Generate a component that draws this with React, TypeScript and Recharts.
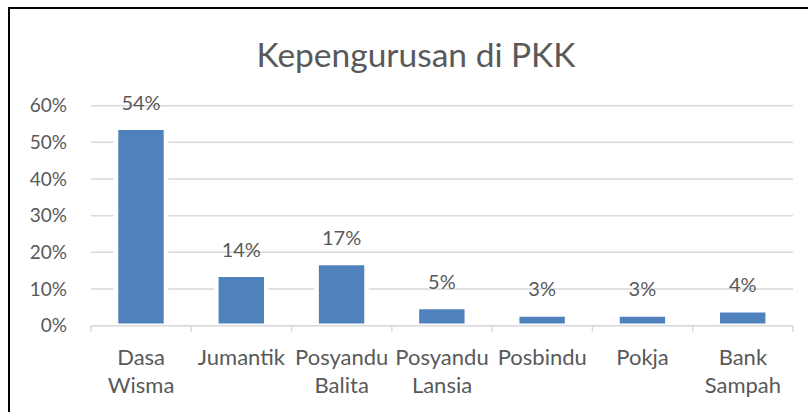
import { BarChart, Bar, XAxis, YAxis, CartesianGrid, LabelList } from "recharts";

// Kepengurusan di PKK — share of members per unit (%)
const categories = [
  "Dasa Wisma",
  "Jumantik",
  "Posyandu Balita",
  "Posyandu Lansia",
  "Posbindu",
  "Pokja",
  "Bank Sampah",
];
const shares = [54.0, 13.9, 17.1, 5.1, 3.1, 3.1, 4.2];
const yTicks = [0, 10, 20, 30, 40, 50, 60];

const data = categories.map((name, i) => ({ name, value: shares[i] }));

const TEXT = "#595959";
const GRID = "#d9d9d9";
const BAR = "#4f81bd";
const FONT = "Lato, 'Noto Sans', sans-serif";

function CategoryTick(props: any) {
  const { x, y, payload, index, visibleTicksCount } = props;
  const half = payload.offset || 0;
  const lines = String(payload.value).split(" ");
  const last = index === visibleTicksCount - 1;
  return (
    <g>
      <line x1={x - half} x2={x - half} y1={y} y2={y + 6} stroke={GRID} strokeWidth={1.5} />
      {last && <line x1={x + half} x2={x + half} y1={y} y2={y + 6} stroke={GRID} strokeWidth={1.5} />}
      <text x={x} y={y + 39} textAnchor="middle" fill={TEXT} fontSize={22} fontFamily={FONT}>
        {lines.map((l, i) => (
          <tspan key={i} x={x} dy={i === 0 ? 0 : 28.5}>
            {l}
          </tspan>
        ))}
      </text>
    </g>
  );
}

function ValueLabel(props: any) {
  const { x, y, width, value } = props;
  return (
    <text
      x={Number(x) + Number(width) / 2}
      y={Number(y) - 18}
      textAnchor="middle"
      fill={TEXT}
      fontSize={20}
      fontFamily={FONT}
    >
      {Math.round(Number(value))}%
    </text>
  );
}

export default function App() {
  return (
    <div
      style={{
        position: "absolute",
        left: 0,
        top: 0,
        width: 808,
        height: 412,
        overflow: "hidden",
        background: "#fff",
      }}
    >
      <div
        style={{
          position: "absolute",
          left: 8,
          top: 7,
          width: 900,
          height: 500,
          borderLeft: "2px solid #000",
          borderTop: "2px solid #000",
        }}
      />
      <svg width={808} height={412} style={{ position: "absolute", left: 0, top: 0 }}>
        <text x={416} y={66.7} textAnchor="middle" fill={TEXT} fontSize={33.5} fontFamily={FONT}>
          Kepengurusan di PKK
        </text>
      </svg>
      <div style={{ position: "absolute", left: 0, top: 0 }}>
        <BarChart
          width={808}
          height={412}
          data={data}
          margin={{ top: 105.7, right: 15, left: 0, bottom: 0 }}
        >
          <CartesianGrid vertical={false} stroke={GRID} strokeWidth={1.5} />
          <XAxis
            dataKey="name"
            height={86.3}
            interval={0}
            tickSize={0}
            tickMargin={0}
            tickLine={false}
            axisLine={{ stroke: GRID, strokeWidth: 1.5 }}
            tick={<CategoryTick />}
          />
          <YAxis
            width={91}
            domain={[0, 60]}
            ticks={yTicks}
            tickFormatter={(v: number) => `${v}%`}
            axisLine={false}
            tickLine={false}
            tickSize={0}
            tickMargin={24}
            tick={{ fill: TEXT, fontSize: 19, fontFamily: FONT }}
          />
          <Bar
            dataKey="value"
            fill={BAR}
            stroke="#fff"
            strokeWidth={4.6}
            barSize={50}
            isAnimationActive={false}
          >
            <LabelList dataKey="value" content={<ValueLabel />} />
          </Bar>
        </BarChart>
      </div>
    </div>
  );
}
